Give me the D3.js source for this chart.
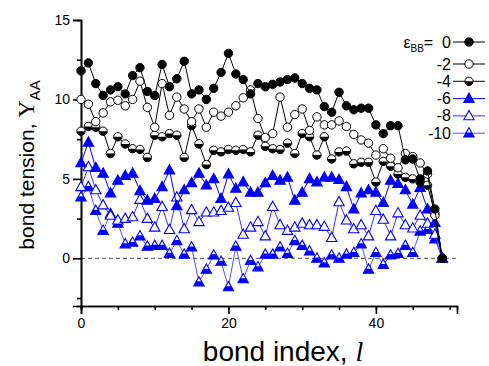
<!DOCTYPE html>
<html>
<head>
<meta charset="utf-8">
<script src="https://cdn.jsdelivr.net/npm/d3@7"></script>
<style>
  body { margin: 0; background: #fff; }
  text { font-family: Arial, "Liberation Sans", sans-serif; }
</style>
</head>
<body>
<div id="chart"></div>
<script>
// bond index l, 0..49
const bondIndex = [0,1,2,3,4,5,6,7,8,9,10,11,12,13,14,15,16,17,18,19,20,21,22,23,24,
  25,26,27,28,29,30,31,32,33,34,35,36,37,38,39,40,41,42,43,44,45,46,47,48,49];

// bond tension Y_AA for each eps_BB
const eps0 = [11.8,12.3,11.0,10.25,10.6,10.8,10.35,11.5,12.0,10.5,10.25,12.2,10.8,11.3,12.4,10.35,10.6,10.0,10.7,11.7,
  12.9,11.6,11.25,10.35,11.0,10.8,10.95,11.1,11.25,11.35,11.0,10.7,10.6,9.55,9.2,10.45,9.6,9.35,9.45,9.45,
  8.4,7.85,8.35,8.35,6.2,6.25,5.0,5.5,3.1,0];
const eps2 = [10.0,9.7,8.6,9.15,9.85,9.95,9.6,10.0,11.15,9.5,8.25,11.0,9.0,10.15,9.4,8.6,9.4,8.25,9.2,8.95,
  9.2,9.6,10.1,10.6,8.8,7.6,7.85,10.15,8.25,9.05,9.4,8.05,8.9,8.4,8.4,8.65,8.3,7.8,7.45,7.25,
  6.5,6.9,6.3,5.7,6.6,6.4,6.0,5.3,2.7,0];
const eps4 = [8.0,8.3,8.25,8.0,6.6,7.65,7.2,6.9,6.85,6.35,7.75,7.65,7.85,7.75,6.35,8.35,7.2,5.9,6.8,6.7,
  6.85,6.8,6.85,6.7,7.75,7.05,6.9,6.85,7.25,6.6,7.85,7.65,6.5,7.65,6.25,6.7,6.75,5.95,6.05,6.05,
  4.8,6.1,5.8,5.3,5.1,5.0,4.8,4.6,2.8,0];
const eps6 = [6.0,7.3,5.7,5.35,4.1,4.9,5.2,5.35,4.25,3.65,3.75,4.5,5.55,3.3,4.3,4.75,5.35,4.6,5.0,3.75,
  5.3,4.4,4.8,4.15,4.15,4.75,5.2,4.9,5.1,3.65,4.15,5.0,4.8,5.1,5.1,4.95,4.5,3.1,4.1,4.3,
  4.15,3.5,4.9,4.7,4.3,3.4,4.45,3.1,2.25,0];
const eps8 = [4.5,5.75,4.3,3.35,2.7,2.4,2.5,2.6,3.7,2.5,1.95,3.25,1.8,3.85,1.85,3.05,2.3,2.9,2.9,3.0,
  3.2,3.5,1.5,1.95,2.3,1.4,3.25,2.1,1.75,1.95,2.2,2.1,2.1,2.0,1.3,3.55,2.4,1.85,2.1,1.4,
  3.0,2.45,1.4,2.85,2.1,1.9,2.7,2.2,1.5,0];
const eps10 = [3.85,4.5,3.0,1.75,2.8,2.2,0.9,1.0,1.4,0.75,0.8,0.8,0.3,1.1,0.25,0.7,-1.5,-0.7,0.2,-0.2,
  -1.8,0.75,-1.3,-0.15,-0.55,0.25,0.25,0.7,0.3,1.1,0.8,0.45,0.0,-0.3,0.2,0.0,0.25,0.35,0.9,-0.7,
  0.35,-0.4,0.2,0.3,0.8,0.35,1.7,1.8,1.2,0];

const legendLabels = ["0", "-2", "-4", "-6", "-8", "-10"];
const xTicks = [0, 20, 40];
const yTicks = [0, 5, 10, 15];

const series = [
  { label: legendLabels[0], values: eps0, color: "#000", line: "#000", marker: "circle", fill: "full" },
  { label: legendLabels[1], values: eps2, color: "#000", line: "#000", marker: "circle", fill: "none" },
  { label: legendLabels[2], values: eps4, color: "#000", line: "#000", marker: "circle", fill: "half" },
  { label: legendLabels[3], values: eps6, color: "#0000ff", line: "#0000ff", marker: "tri", fill: "full" },
  { label: legendLabels[4], values: eps8, color: "#0000ff", line: "#3333ff", marker: "tri", fill: "none" },
  { label: legendLabels[5], values: eps10, color: "#0000ff", line: "#5555ff", marker: "tri", fill: "half" }
];

const W = 489, H = 366;
const margin = { left: 81, right: 32, top: 20, bottom: 60 };

const svg = d3.select("#chart").append("svg")
  .attr("width", W).attr("height", H)
  .style("background", "#fff");

const x = d3.scaleLinear().domain([0, 51]).range([margin.left, W - margin.right]);
const y = d3.scaleLinear().domain([-3, 15]).range([H - margin.bottom, margin.top]);

// zero line
svg.append("line")
  .attr("x1", x(0)).attr("x2", x(51))
  .attr("y1", y(0)).attr("y2", y(0))
  .attr("stroke", "#555").attr("stroke-width", 1)
  .attr("stroke-dasharray", "4,3");

// axes
const xMinor = svg.append("g")
  .attr("transform", `translate(0,${y(-3)})`)
  .call(d3.axisBottom(x).tickValues(d3.range(0, 51, 5)).tickSize(4).tickFormat(""));
const xAxis = svg.append("g")
  .attr("transform", `translate(0,${y(-3)})`)
  .call(d3.axisBottom(x).tickValues(xTicks).tickSize(8).tickPadding(4));
const yMinor = svg.append("g")
  .attr("transform", `translate(${x(0)},0)`)
  .call(d3.axisLeft(y).tickValues([-2.5, 2.5, 7.5, 12.5]).tickSize(4).tickFormat(""));
const yAxis = svg.append("g")
  .attr("transform", `translate(${x(0)},0)`)
  .call(d3.axisLeft(y).tickValues(yTicks).tickSize(8).tickPadding(3));

[xMinor, xAxis, yMinor, yAxis].forEach(g => {
  g.select(".domain").attr("stroke", "#000").attr("stroke-width", 1.6);
  g.selectAll(".tick line").attr("stroke", "#000").attr("stroke-width", 1.6);
  g.selectAll(".tick text").attr("fill", "#000").style("font-size", "14px");
});

// markers
function drawMarker(g, s, cx, cy) {
  if (s.marker === "circle") {
    const r = 4.2;
    g.append("circle").attr("cx", cx).attr("cy", cy).attr("r", r)
      .attr("fill", s.fill === "full" ? s.color : "#fff")
      .attr("stroke", s.color).attr("stroke-width", 1);
    if (s.fill === "half") {
      g.append("path")
        .attr("d", `M${cx - r},${cy} A${r},${r} 0 0 0 ${cx + r},${cy} Z`)
        .attr("fill", s.color);
    }
  } else {
    const top = cy - 5.5, bot = cy + 3.8, hw = 5.2;
    g.append("path")
      .attr("d", `M${cx},${top} L${cx + hw},${bot} L${cx - hw},${bot} Z`)
      .attr("fill", s.fill === "full" ? s.color : "#fff")
      .attr("stroke", s.color).attr("stroke-width", 1.1)
      .attr("stroke-linejoin", "miter");
    if (s.fill === "half") {
      const my = cy - 0.8, mw = hw * (my - top) / (bot - top);
      g.append("path")
        .attr("d", `M${cx - mw},${my} L${cx + mw},${my} L${cx + hw},${bot} L${cx - hw},${bot} Z`)
        .attr("fill", s.color);
    }
  }
}

const line = d3.line().x((d, i) => x(bondIndex[i])).y(d => y(d));

// draw from back (eps=-10) to front (eps=0)
series.slice().reverse().forEach(s => {
  const g = svg.append("g");
  g.append("path").datum(s.values)
    .attr("d", line)
    .attr("fill", "none")
    .attr("stroke", s.line)
    .attr("stroke-width", 1);
  s.values.forEach((v, i) => drawMarker(g, s, x(bondIndex[i]), y(v)));
});

// legend
const leg = svg.append("g");
series.forEach((s, i) => {
  const ly = i === 0 ? 42 : 64 + (i - 1) * 17.3;
  const t = leg.append("text")
    .attr("x", 451).attr("y", ly + 5.5)
    .attr("text-anchor", "end")
    .style("font-size", "16px").attr("fill", "#000");
  if (i === 0) {
    t.append("tspan").text("ε");
    t.append("tspan").text("BB").style("font-size", "10px").attr("dy", 4);
    t.append("tspan").text("=  " + s.label).attr("dy", -4).style("white-space", "pre");
  } else {
    t.text(s.label);
  }
  leg.append("line")
    .attr("x1", 453).attr("x2", 485).attr("y1", ly).attr("y2", ly)
    .attr("stroke", s.line).attr("stroke-width", 1);
  drawMarker(leg, s, 469, ly);
});

// axis titles
const xt = svg.append("text")
  .attr("x", 283).attr("y", 361)
  .attr("text-anchor", "middle")
  .style("font-size", "28px").attr("fill", "#000");
xt.append("tspan").text("bond index, ");
xt.append("tspan").text("l")
  .style("font-family", "'Liberation Serif', 'DejaVu Serif', serif")
  .style("font-style", "italic");

const yt = svg.append("text")
  .attr("transform", "translate(34,165) rotate(-90)")
  .attr("text-anchor", "middle")
  .style("font-size", "21px").attr("fill", "#000");
yt.append("tspan").text("bond tension, ");
yt.append("tspan").text("Υ")
  .style("font-family", "'Liberation Serif', 'DejaVu Serif', serif")
  .style("font-size", "24px");
yt.append("tspan").text("AA").style("font-size", "15px").attr("dy", 6);
</script>
</body>
</html>
